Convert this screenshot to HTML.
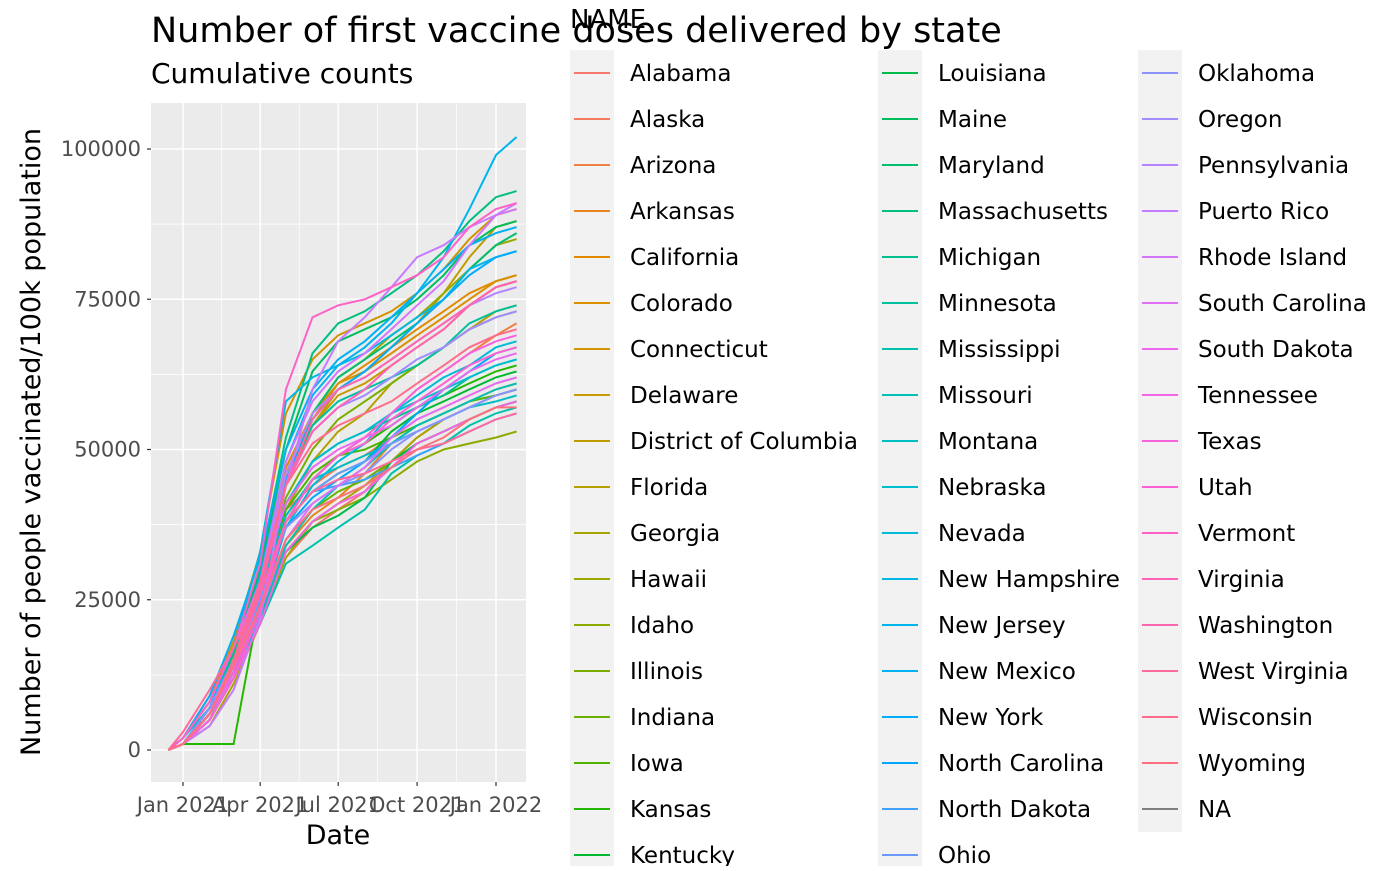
<!DOCTYPE html>
<html><head><meta charset="utf-8"><style>
body{margin:0;background:#fff;width:1400px;height:866px;overflow:hidden;font-family:"Liberation Sans","DejaVu Sans",sans-serif}
svg text{font-family:"DejaVu Sans","Liberation Sans",sans-serif}
</style></head><body>
<svg id="chart" width="1400" height="866" xmlns="http://www.w3.org/2000/svg"></svg>
<script>
const states=["Alabama","Alaska","Arizona","Arkansas","California","Colorado","Connecticut","Delaware","District of Columbia","Florida","Georgia","Hawaii","Idaho","Illinois","Indiana","Iowa","Kansas","Kentucky","Louisiana","Maine","Maryland","Massachusetts","Michigan","Minnesota","Mississippi","Missouri","Montana","Nebraska","Nevada","New Hampshire","New Jersey","New Mexico","New York","North Carolina","North Dakota","Ohio","Oklahoma","Oregon","Pennsylvania","Puerto Rico","Rhode Island","South Carolina","South Dakota","Tennessee","Texas","Utah","Vermont","Virginia","Washington","West Virginia","Wisconsin","Wyoming"];
// days since 2021-01-01
const dates=[-17,0,31,59,90,120,151,181,212,243,273,304,334,365,389];
// cumulative first doses per 100k, in thousands
const v0=[0,1,5,12,22,32,37,40,43,48,52,55,57,59,60];
const v1=[0,2,9,18,28,40,44,47,49,52,55,57,59,61,62];
const v2=[0,1,6,14,25,38,45,49,52,56,60,63,66,69,71];
const v3=[0,1,6,13,23,34,39,42,46,51,54,56,58,60,61];
const v4=[0,1,6,14,27,45,55,61,64,67,70,73,76,78,79];
const v5=[0,1,7,16,29,47,56,61,63,66,69,72,75,78,79];
const v6=[0,2,8,18,33,56,65,69,71,73,76,80,85,89,90];
const v7=[0,1,7,15,28,46,54,59,61,64,67,70,74,77,78];
const v8=[0,1,6,15,28,44,54,60,63,67,71,76,82,87,88];
const v9=[0,1,6,14,26,40,48,53,56,61,64,67,70,73,74];
const v10=[0,1,4,11,21,32,38,41,44,48,52,55,57,59,60];
const v11=[0,1,7,16,28,44,56,62,65,69,72,76,80,84,85];
const v12=[0,1,6,12,22,33,38,40,42,45,48,50,51,52,53];
const v13=[0,1,5,13,26,42,50,55,58,61,64,67,70,72,73];
const v14=[0,1,6,13,23,35,40,43,45,48,51,53,55,57,58];
const v15=[0,1,6,14,26,40,46,49,50,52,54,56,58,59,60];
const v16=[0,1,1,1,25,39,45,49,51,54,57,59,61,63,64];
const v17=[0,1,6,14,25,38,43,46,48,53,56,58,60,62,63];
const v18=[0,1,6,13,22,33,37,39,42,48,51,53,55,57,58];
const v19=[0,1,7,16,30,50,63,68,70,72,75,79,84,87,88];
const v20=[0,1,5,13,26,44,56,62,65,68,71,75,80,84,86];
const v21=[0,1,7,16,31,52,66,71,73,76,79,83,88,92,93];
const v22=[0,1,6,14,26,41,48,51,53,55,57,59,62,64,65];
const v23=[0,1,6,14,27,45,54,58,60,62,64,67,71,73,74];
const v24=[0,1,5,12,21,31,34,37,40,46,49,51,54,56,57];
const v25=[0,1,5,12,22,34,40,44,47,51,54,56,58,60,61];
const v26=[0,2,7,15,26,39,45,47,49,51,53,55,57,58,59];
const v27=[0,1,7,15,27,41,48,51,53,56,58,60,62,64,65];
const v28=[0,1,5,12,23,37,44,48,51,56,59,62,64,67,68];
const v29=[0,1,7,17,33,58,62,64,66,69,72,75,80,82,83];
const v30=[0,1,6,15,29,48,59,64,67,71,76,82,90,99,102];
const v31=[0,2,9,19,32,50,60,65,68,72,76,80,84,86,87];
const v32=[0,1,6,14,27,45,55,60,63,67,71,75,79,82,83];
const v33=[0,1,7,14,25,37,42,45,48,52,56,60,63,66,67];
const v34=[0,1,7,15,26,38,43,44,45,47,49,51,53,55,56];
const v35=[0,1,6,14,25,38,43,46,48,51,53,55,57,59,60];
const v36=[0,1,7,15,26,37,41,44,46,50,53,55,57,59,60];
const v37=[0,1,5,13,26,44,53,57,59,62,65,67,70,72,73];
const v38=[0,1,5,13,27,46,56,60,62,65,68,71,74,76,77];
const v39=[0,1,4,10,22,44,60,68,72,77,82,84,87,89,91];
const v40=[0,1,6,15,28,48,58,63,66,70,74,78,84,89,90];
const v41=[0,1,5,12,23,35,41,44,47,52,55,57,59,61,62];
const v42=[0,2,8,17,28,41,47,50,52,54,57,60,63,65,66];
const v43=[0,1,5,12,21,33,38,41,43,47,51,53,55,57,58];
const v44=[0,1,6,13,24,38,45,49,52,56,60,63,66,68,69];
const v45=[0,1,5,12,23,38,45,49,51,55,58,61,64,66,67];
const v46=[0,2,8,17,31,60,72,74,75,77,79,82,87,90,91];
const v47=[0,1,6,14,27,44,53,57,60,64,67,70,74,77,78];
const v48=[0,1,6,14,26,44,55,60,62,65,68,71,74,77,78];
const v49=[0,3,10,17,26,38,43,45,46,48,50,51,53,55,56];
const v50=[0,1,6,15,28,44,51,54,56,58,61,64,67,69,70];
const v51=[0,1,6,14,24,35,40,42,44,47,50,52,55,57,57];
const series=[v0,v1,v2,v3,v4,v5,v6,v7,v8,v9,v10,v11,v12,v13,v14,v15,v16,v17,v18,v19,v20,v21,v22,v23,v24,v25,v26,v27,v28,v29,v30,v31,v32,v33,v34,v35,v36,v37,v38,v39,v40,v41,v42,v43,v44,v45,v46,v47,v48,v49,v50,v51];
const yTicks=[0,25000,50000,75000,100000];
const xTickDays=[0,90,181,273,365];
const xTickLabels=["Jan 2021","Apr 2021","Jul 2021","Oct 2021","Jan 2022"];

const svg=document.getElementById('chart');
const NS='http://www.w3.org/2000/svg';
function mk(t,a,p){const e=document.createElementNS(NS,t);for(const k in a)e.setAttribute(k,a[k]);(p||svg).appendChild(e);return e;}
const PL=151,PR=526,PT=103,PB=782;
const xS=d=>183+d*(496-183)/365;
const yS=v=>750-v*(750-149)/100000;
function hcl(h){const L=65,C=100,r=h*Math.PI/180;const u=C*Math.cos(r),v=C*Math.sin(r);
const Xn=95.047,Yn=100,Zn=108.883;const den=Xn+15*Yn+3*Zn;const un=4*Xn/den,vn=9*Yn/den;
const Y=Yn*Math.pow((L+16)/116,3);const up=u/(13*L)+un,vp=v/(13*L)+vn;
const X=Y*9*up/(4*vp),Z=Y*(12-3*up-20*vp)/(4*vp);
const x=X/100,y=Y/100,z=Z/100;
let R=3.2404542*x-1.5371385*y-0.4985314*z,G=-0.9692660*x+1.8760108*y+0.0415560*z,B=0.0556434*x-0.2040259*y+1.0572252*z;
const g=c=>{c=c<=0.0031308?12.92*c:1.055*Math.pow(c,1/2.4)-0.055;return Math.round(Math.max(0,Math.min(1,c))*255);};
return `rgb(${g(R)},${g(G)},${g(B)})`;}
const n=states.length;
const colors=states.map((s,i)=>hcl(15+360*i/n));

const panel=mk('g',{});


mk('rect',{x:PL,y:PT,width:PR-PL,height:PB-PT,fill:'#ebebeb'},panel);
for(let i=0;i<yTicks.length;i++){
 mk('line',{x1:PL,x2:PR,y1:yS(yTicks[i]+12500),y2:yS(yTicks[i]+12500),stroke:'#fff','stroke-width':0.7},panel);
 mk('line',{x1:PL,x2:PR,y1:yS(yTicks[i]-12500),y2:yS(yTicks[i]-12500),stroke:'#fff','stroke-width':0.7},panel);
}
for(let i=0;i<xTickDays.length-1;i++){const m=xS((xTickDays[i]+xTickDays[i+1])/2);mk('line',{x1:m,x2:m,y1:PT,y2:PB,stroke:'#fff','stroke-width':0.7},panel);}
yTicks.forEach(v=>{const y=yS(v);
 mk('line',{x1:PL,x2:PR,y1:y,y2:y,stroke:'#fff','stroke-width':1.5},panel);
 mk('line',{x1:PL-4,x2:PL,y1:y,y2:y,stroke:'#333','stroke-width':1.2});
 const t=mk('text',{x:PL-10,y:y+7,'text-anchor':'end','font-size':21,fill:'#4d4d4d'});t.textContent=v;
 
 
});
xTickDays.forEach((d,i)=>{const x=xS(d);
 mk('line',{x1:x,x2:x,y1:PT,y2:PB,stroke:'#fff','stroke-width':1.5},panel);
 mk('line',{x1:x,x2:x,y1:PB,y2:PB+4,stroke:'#333','stroke-width':1.2});
 const t=mk('text',{x:x,y:PB+30,'text-anchor':'middle','font-size':21,fill:'#4d4d4d'});t.textContent=xTickLabels[i];
 
 
});
series.forEach((s,i)=>{
 const pts=s.map((v,j)=>xS(dates[j]).toFixed(1)+','+yS(v*1000).toFixed(1)).join(' ');
 const p=mk('polyline',{points:pts,fill:'none',stroke:colors[i],'stroke-width':2});
 
 
});
function txt(x,y,s,sz,name,extra){const t=mk('text',Object.assign({x:x,y:y,'font-size':sz,fill:'#000'},extra||{}));t.textContent=s;
 
 return t;}
txt(151,42,'Number of first vaccine doses delivered by state',35,'chart-title');
txt(151,83,'Cumulative counts',28,'chart-subtitle');
txt(338,844,'Date',27,'x-axis-title',{'text-anchor':'middle'});
txt(0,0,'Number of people vaccinated/100k population',27,'y-axis-title',{'text-anchor':'middle',transform:'translate(40,442) rotate(-90)'});
txt(570,28,'NAME',26,'legend-title');
const legend=mk('g',{});


const cols=[570,878,1138];
const all=states.concat(['NA']);const allC=colors.concat(['#7f7f7f']);
all.forEach((s,i)=>{const c=Math.floor(i/18),r=i%18;const x=cols[c],y=50+r*46;
 mk('rect',{x:x,y:y,width:44,height:46,fill:'#f2f2f2'},legend);
 const l=mk('line',{x1:x+4,x2:x+40,y1:y+23,y2:y+23,stroke:allC[i],'stroke-width':2},legend);
 
 
 txt(x+60,y+31,s,23,'legend-entry');
});
</script>
</body></html>
